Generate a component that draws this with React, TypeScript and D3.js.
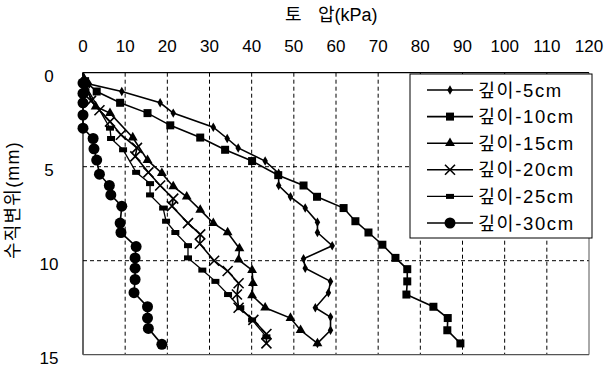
import React from "react";
import * as d3 from "d3";

const xTicks = [0, 10, 20, 30, 40, 50, 60, 70, 80, 90, 100, 110, 120];
const yTicks = [0, 5, 10, 15];
const seriesNames = ["깊이-5cm", "깊이-10cm", "깊이-15cm", "깊이-20cm", "깊이-25cm", "깊이-30cm"];

// [pressure kPa, displacement mm]
const depth5: [number, number][] = [
  [0, 0], [1.5, 0.6], [9.2, 1.0], [18.3, 1.6], [21.4, 2.15], [30.9, 2.9], [34.2, 3.5], [36.8, 4.0],
  [43.2, 4.7], [46.4, 5.35], [46.4, 6.0], [49.2, 6.6], [52.7, 7.2], [55.6, 7.95], [55.6, 8.5],
  [59.1, 9.2], [52.3, 9.9], [52.7, 10.4], [58.7, 11.1], [58.2, 11.7], [55.1, 12.5], [58.7, 13.0],
  [58.7, 13.7], [55.6, 14.4],
];
const depth10: [number, number][] = [
  [0, 0], [0.5, 0.45], [3.25, 1.0], [8.8, 1.6], [15.3, 2.15], [20.7, 2.8], [27.8, 3.45], [33.7, 4.1],
  [40.1, 4.7], [46.3, 5.45], [52.3, 6.0], [55.5, 6.6], [61.8, 7.2], [64.6, 7.9], [67.7, 8.5],
  [71.0, 9.15], [74.1, 9.85], [76.9, 10.45], [76.9, 11.1], [76.7, 11.8], [83.1, 12.45],
  [86.5, 13.05], [86.4, 13.7], [89.5, 14.4],
];
const depth15: [number, number][] = [
  [0, 0], [0.5, 0.8], [3.0, 1.8], [6.4, 2.15], [11.8, 3.45], [15.3, 4.65], [18.7, 5.35], [21.4, 6.05],
  [24.6, 6.6], [27.8, 7.3], [30.9, 8.0], [34.3, 8.5], [37.1, 9.35], [36.9, 9.95], [40.1, 10.5],
  [40.3, 11.2], [40.1, 11.85], [43.2, 12.5], [49.2, 13.05], [51.6, 13.7], [55.6, 14.4],
];
const depth20: [number, number][] = [
  [0, 0], [1.9, 1.5], [3.9, 2.0], [6.4, 2.6], [9.0, 3.3], [12.8, 4.0], [12.4, 4.45], [15.5, 5.3],
  [18.3, 6.0], [21.4, 6.7], [21.1, 7.1], [24.9, 8.0], [27.8, 8.6], [27.7, 9.1], [31.1, 10.0],
  [34.3, 10.55], [36.9, 11.2], [36.5, 11.8], [36.9, 12.5], [40.4, 13.15], [43.5, 13.9], [43.5, 14.4],
];
const depth25: [number, number][] = [
  [0, 0], [0.5, 0.65], [6.4, 2.95], [6.65, 3.5], [9.5, 4.1], [12.6, 5.3], [15.9, 5.9], [15.9, 6.5],
  [19.0, 7.2], [19.7, 7.9], [21.9, 8.5], [24.9, 9.2], [24.9, 9.85], [28.3, 10.5], [31.4, 11.1],
  [34.4, 11.8], [37.3, 12.5], [40.1, 13.15], [43.5, 14.05],
];
const depth30: [number, number][] = [
  [0, 0], [0, 0.55], [0, 1.1], [0, 1.6], [0, 2.25], [0, 2.95], [2.4, 3.5], [2.6, 4.05], [3.25, 4.65],
  [3.9, 5.4], [6.25, 6.0], [6.6, 6.5], [9.2, 7.1], [8.8, 8.0], [9.0, 8.5], [12.6, 9.25],
  [12.35, 9.85], [12.35, 10.4], [12.35, 11.0], [12.1, 11.7], [15.3, 12.45], [15.3, 13.05],
  [15.5, 13.6], [18.7, 14.45],
];

const allSeries = [depth5, depth10, depth15, depth20, depth25, depth30];
const markerTypes = ["diamond", "square", "triangle", "cross", "dash", "circle"];

const W = 608;
const H = 369;
const x = d3.scaleLinear().domain([0, 120]).range([83, 589]);
const y = d3.scaleLinear().domain([0, 15]).range([72.7, 354.7]);
const FONT = "'Liberation Sans', Arial, 'Noto Sans CJK KR', sans-serif";

function Marker({ type, cx, cy }: { type: string; cx: number; cy: number }) {
  const t = `translate(${cx},${cy})`;
  if (type === "diamond") {
    return <path transform={t} d={d3.symbol().type(d3.symbolDiamond).size(26)()!} fill="#000" />;
  }
  if (type === "square") {
    return <rect x={cx - 4} y={cy - 4} width={8} height={8} fill="#000" />;
  }
  if (type === "triangle") {
    return <path transform={t} d={d3.symbol().type(d3.symbolTriangle).size(42)()!} fill="#000" />;
  }
  if (type === "cross") {
    return (
      <path transform={t} d="M-5,-5L5,5M-5,5L5,-5" stroke="#000" strokeWidth={1.6} fill="none" />
    );
  }
  if (type === "dash") {
    return <rect x={cx - 4} y={cy - 2.5} width={8} height={5} fill="#000" />;
  }
  return <circle cx={cx} cy={cy} r={5.5} fill="#000" />;
}

export default function App() {
  const line = d3
    .line<[number, number]>()
    .x((d) => x(d[0]))
    .y((d) => y(d[1]));

  const legendX = 410;
  const legendY = 74;
  const legendW = 182;
  const legendH = 164;
  const rowY = (i: number) => 90 + i * 26.6;

  return (
    <svg
      width={W}
      height={H}
      style={{ position: "absolute", left: 0, top: 0, background: "#fff" }}
      fontFamily={FONT}
    >
      <rect x={0} y={0} width={W} height={H} fill="#fff" />
      {/* grid */}
      {xTicks.slice(1, -1).map((t) => (
        <line
          key={"gx" + t}
          x1={x(t)}
          x2={x(t)}
          y1={y(0)}
          y2={y(15)}
          stroke="#000"
          strokeWidth={1}
          strokeDasharray="4,3"
        />
      ))}
      {yTicks.slice(1, -1).map((t) => (
        <line
          key={"gy" + t}
          x1={x(0)}
          x2={x(120)}
          y1={y(t)}
          y2={y(t)}
          stroke="#000"
          strokeWidth={1}
          strokeDasharray="4,3"
        />
      ))}
      {/* frame */}
      <line x1={x(0)} x2={x(120)} y1={y(0)} y2={y(0)} stroke="#000" strokeWidth={1.2} />
      <line x1={x(0)} x2={x(0)} y1={y(0)} y2={y(15)} stroke="#000" strokeWidth={1.2} />
      <line x1={x(120)} x2={x(120)} y1={y(0)} y2={y(15)} stroke="#555" strokeWidth={1} />
      <line x1={x(0)} x2={x(120)} y1={y(15)} y2={y(15)} stroke="#555" strokeWidth={1.2} />

      {/* x tick labels */}
      {xTicks.map((t) => (
        <text key={"xt" + t} x={x(t)} y={52} textAnchor="middle" fontSize={17} fill="#000">
          {t}
        </text>
      ))}
      {/* y tick labels */}
      {yTicks.map((t) => (
        <text key={"yt" + t} x={49} y={y(t) + 9} textAnchor="middle" fontSize={17} fill="#000">
          {t}
        </text>
      ))}
      {/* titles */}
      <text x={285} y={21} fontSize={18} fill="#000">
        <tspan>토</tspan>
        <tspan x={318}>압(kPa)</tspan>
      </text>
      <text
        transform={`translate(19,200) rotate(-90)`}
        textAnchor="middle"
        fontSize={18}
        letterSpacing={1.2}
        fill="#000"
      >
        수직변위(mm)
      </text>

      {/* series */}
      {allSeries.map((s, i) => (
        <g key={"s" + i}>
          <path d={line(s)!} fill="none" stroke="#000" strokeWidth={i === 4 ? 1.3 : 1.6} />
          {s.slice(1).map((d, j) => (
            <Marker key={j} type={markerTypes[i]} cx={x(d[0])} cy={y(d[1])} />
          ))}
        </g>
      ))}

      {/* legend */}
      <rect x={legendX} y={legendY} width={legendW} height={legendH} fill="#fff" stroke="#000" strokeWidth={1} />
      {seriesNames.map((n, i) => (
        <g key={"l" + i}>
          <line x1={427} x2={473} y1={rowY(i)} y2={rowY(i)} stroke="#000" strokeWidth={i === 4 ? 1.1 : 1.6} />
          <Marker type={markerTypes[i]} cx={450} cy={rowY(i)} />
          <text x={478} y={rowY(i) + 6.5} fontSize={18.5} fill="#000" letterSpacing={1.6}>
            {n}
          </text>
        </g>
      ))}
    </svg>
  );
}
